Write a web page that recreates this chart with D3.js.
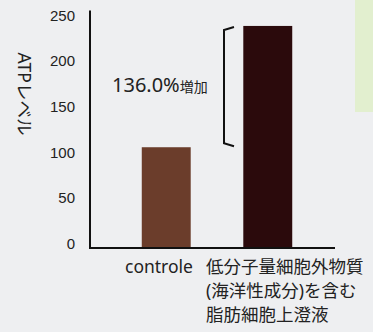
<!DOCTYPE html>
<meta charset="utf-8">
<style>
body { margin: 0; background: #eeeff1; }
svg { display: block; font-family: "Noto Sans", "Noto Sans CJK JP", sans-serif; }
.axis path, .axis line { display: none; }
.axis text { font-size: 15px; fill: #222; }
</style>
<body>
<script src="https://d3js.org/d3.v7.min.js"></script>
<script>

var categories = ["controle", "treated"],
    values = [105, 238],
    xLabels = [["controle"], ["低分子量細胞外物質", "(海洋性成分)を含む", "脂肪細胞上澄液"]],
    barColors = ["#6b3d2b", "#2b0a0c"],
    yTicks = [0, 50, 100, 150, 200, 250],
    increaseLabel = "136.0%",
    increaseUnit = "増加";

var width = 373, height = 332;

var svg = d3.select("body").append("svg")
    .attr("width", width)
    .attr("height", height);

// pale green patch at the right edge
svg.append("rect")
    .attr("x", 355).attr("y", 0)
    .attr("width", 18).attr("height", 112)
    .attr("fill", "#e2efcf");

var y = d3.scaleLinear()
    .domain([0, 250])
    .range([243, 15]);

var x = d3.scaleBand()
    .domain(categories)
    .range([91, 343])
    .paddingInner(0.518)
    .paddingOuter(0.5);

var baseline = 248;

svg.append("g")
    .attr("class", "axis")
    .attr("transform", "translate(75,0)")
    .call(d3.axisLeft(y).tickValues(yTicks).tickSize(0).tickPadding(0))
  .selectAll("text")
    .attr("text-anchor", "end")
    .attr("dy", "0.35em");

svg.selectAll(".bar")
    .data(values)
  .enter().append("rect")
    .attr("class", "bar")
    .attr("x", function(d, i) { return x(categories[i]); })
    .attr("y", function(d) { return y(d); })
    .attr("width", x.bandwidth())
    .attr("height", function(d) { return baseline - y(d); })
    .attr("fill", function(d, i) { return barColors[i]; });

// axes lines
svg.append("path")
    .attr("d", "M90," + y(250 * 1.02) + "V" + baseline + "H335")
    .attr("fill", "none")
    .attr("stroke", "#111")
    .attr("stroke-width", 2);

// bracket
var bx = 224;
svg.append("path")
    .attr("d", "M234," + (y(values[1]) + 1) + "L" + bx + "," + (y(values[1]) + 4) +
               "V" + (y(values[0]) - 4) + "L234," + (y(values[0]) - 1))
    .attr("fill", "none")
    .attr("stroke", "#111")
    .attr("stroke-width", 2);

var lab = svg.append("text")
    .attr("x", 112)
    .attr("y", 92)
    .attr("fill", "#222")
    .style("font-size", "20px");
lab.append("tspan").text(increaseLabel);
lab.append("tspan").style("font-size", "14px").text(increaseUnit);

// y title, rotated
svg.append("text")
    .attr("transform", "translate(18,94) rotate(90)")
    .attr("text-anchor", "middle")
    .attr("fill", "#222")
    .style("font-size", "17.5px")
    .text("ATPレベル");

// x labels
xLabels.forEach(function(lines, i) {
  var t = svg.append("text")
      .attr("fill", "#222")
      .style("font-size", "17.5px");
  lines.forEach(function(s, k) {
    t.append("tspan")
        .attr("x", i === 0 ? 125 : 206)
        .attr("y", 273 + k * 24)
        .text(s);
  });
});
</script>
